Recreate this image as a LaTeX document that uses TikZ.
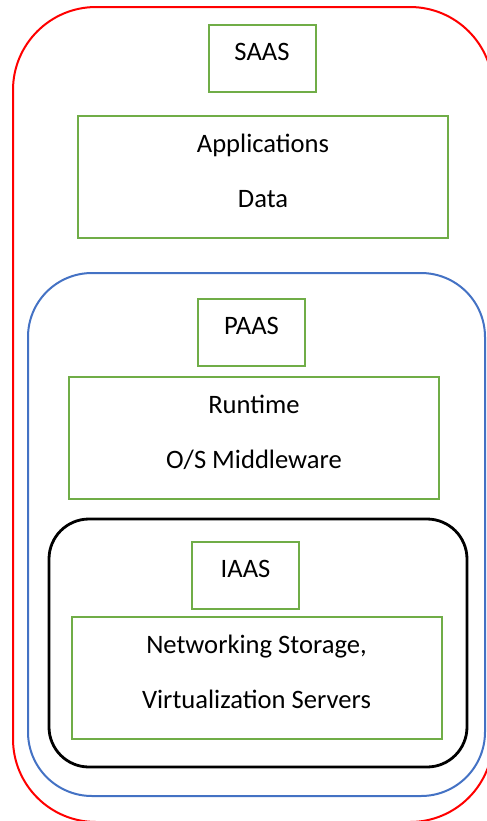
\documentclass[tikz,border=0pt]{standalone}
\usepackage{fontspec}
\setmainfont{Carlito}

\definecolor{saasred}{RGB}{255,0,0}
\definecolor{paasblue}{RGB}{68,114,196}
\definecolor{boxgreen}{RGB}{112,173,71}

\begin{document}
\begin{tikzpicture}[
    x=0.5pt, y=-0.5pt,
    font=\fontsize{13.3}{27.5}\selectfont,
    layer/.style={line width=1pt, rounded corners=#1},
    saas/.style={layer=41.5pt, draw=saasred},
    paas/.style={layer=32pt, draw=paasblue},
    iaas/.style={layer=20pt, draw=black, line width=1.4pt},
    box/.style={
      draw=boxgreen, line width=1pt,
      inner sep=0pt, align=center
    },
    tag/.style={box, minimum width=53.5pt, minimum height=33.5pt, text depth=6.5pt},
    stack/.style={box, minimum width=185pt, minimum height=61pt, text depth=6pt}
  ]

  \useasboundingbox (0,0) rectangle (487,821);
  \clip (0,0) rectangle (487,821);

% --- nested service layers ---
  \draw[saas] (13,7) rectangle (493,822);
  \draw[paas] (28,273) rectangle (485,796);
  \draw[iaas] (49,519) rectangle (467,767);

% --- SAAS ---
  \node[tag]   (saastag) at (262,58.5) {SAAS};
  \node[stack] (saasbox) at (263,177)  {Applications\\Data};

% --- PAAS ---
  \node[tag]   (paastag) at (251.5,332) {PAAS};
  \node[stack] (paasbox) at (254,437.5) {Runtime\\O/S Middleware};

% --- IAAS ---
  \node[tag]   (iaastag) at (245.5,575) {IAAS};
  \node[stack] (iaasbox) at (256.5,678) {Networking Storage,\\Virtualization Servers};

\end{tikzpicture}
\end{document}
